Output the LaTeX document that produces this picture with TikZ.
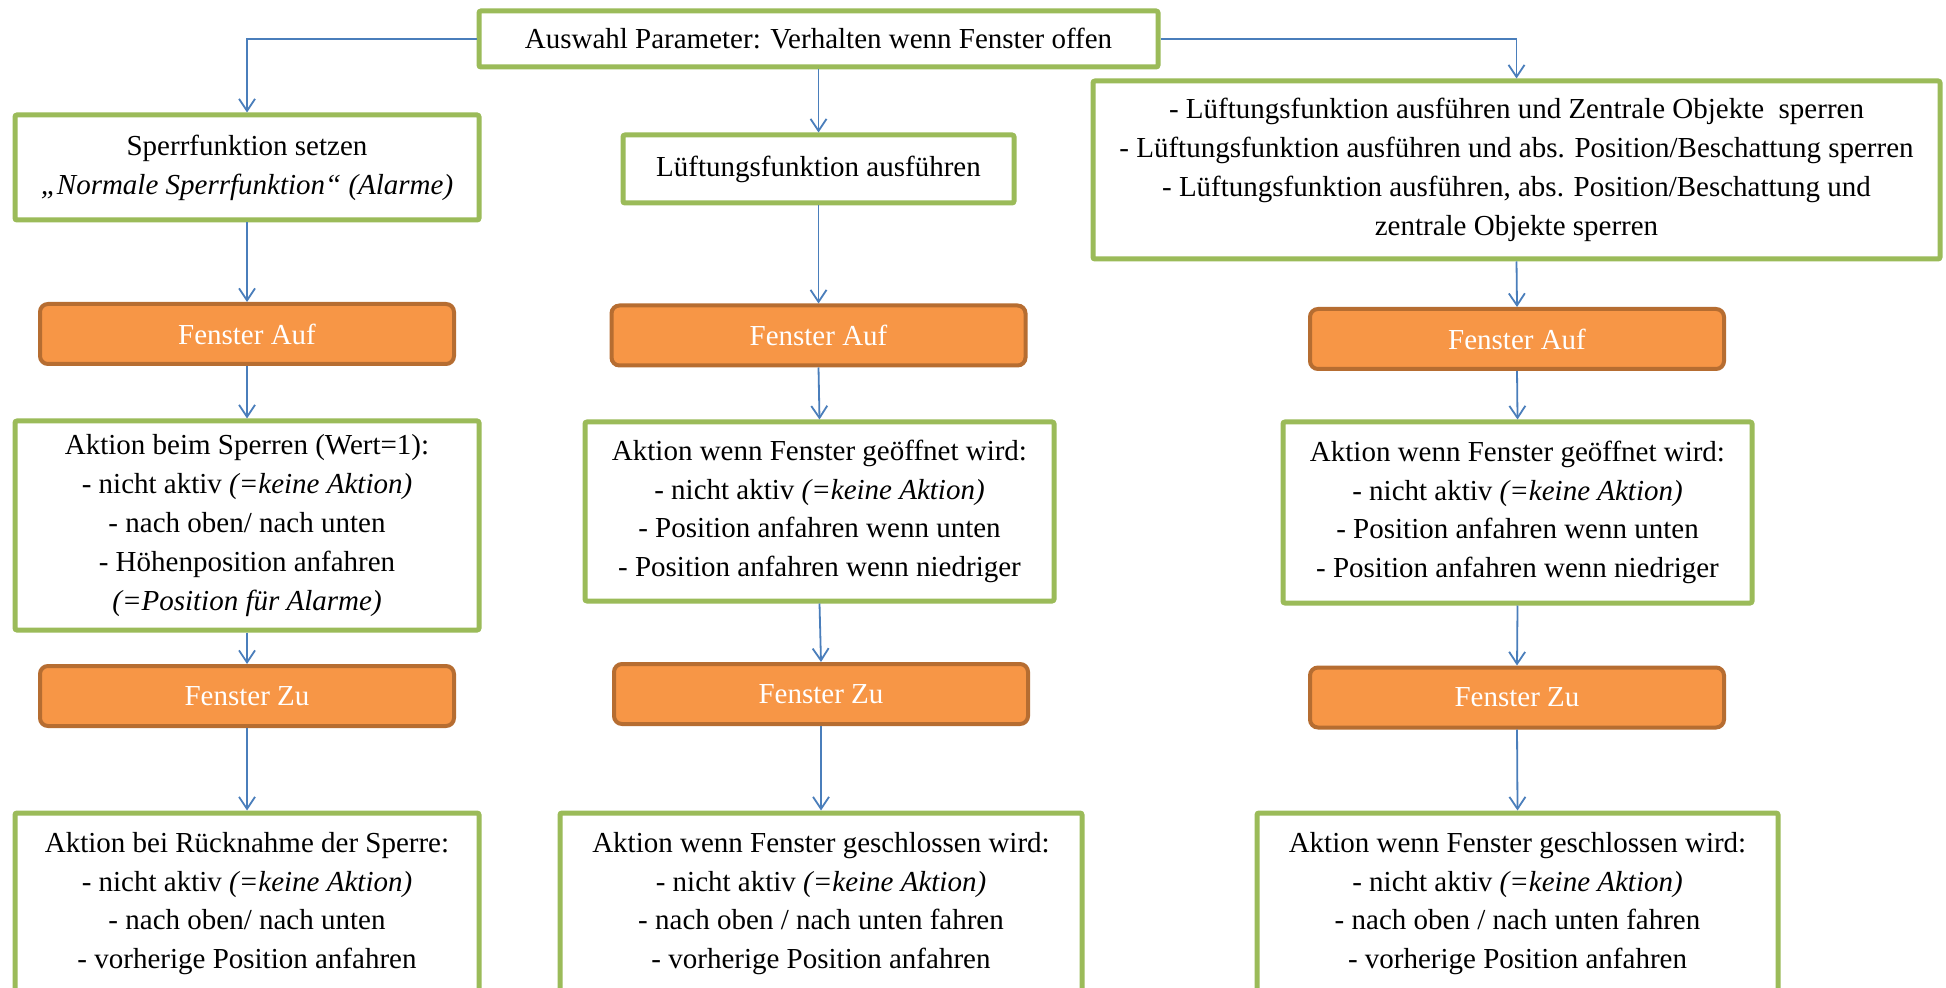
\documentclass[tikz,border=0pt]{standalone}
\usepackage{fontspec}
\setmainfont{Liberation Serif}
\usetikzlibrary{arrows.meta}
\definecolor{gborder}{HTML}{9BBB59}
\definecolor{ofill}{HTML}{F79646}
\definecolor{oborder}{HTML}{B66D31}
\definecolor{arrowblue}{HTML}{4A7EBB}
\begin{document}
\begin{tikzpicture}[x=0.5pt,y=-0.5pt,
  gbox/.style={draw=gborder, line width=2.5pt, fill=white, rounded corners=1pt, align=center, inner sep=0pt, font=\fontsize{14.5}{19.4}\selectfont},
  obox/.style={draw=oborder, line width=2pt, fill=ofill, rounded corners=4pt, text=white, inner sep=0pt, minimum width=207pt, minimum height=30pt, font=\fontsize{14.5}{19.4}\selectfont},
  conn/.style={draw=arrowblue, line width=0.9pt, -{Straight Barb[length=6pt,width=8pt]}}]
\useasboundingbox (0,0) rectangle (1946,988);
\fill[white] (0,0) rectangle (1946,988);
\clip (0,0) rectangle (1946,988);

% top
\node[gbox, minimum width=339.5pt, minimum height=28pt] (top) at (818.5,39) {Auswahl Parameter: Verhalten wenn Fenster offen};

% column 1
\node[gbox, minimum width=232pt, minimum height=52.5pt] (A1) at (247,167.5) {Sperrfunktion setzen\\\textit{„Normale Sperrfunktion“ (Alarme)}};
\node[obox] (B1) at (247,334) {Fenster Auf};
\node[gbox, minimum width=232pt, minimum height=104.5pt] (C1) at (247,525.5) {Aktion beim Sperren (Wert=1):\\- nicht aktiv \textit{(=keine Aktion)}\\- nach oben/ nach unten\\- Höhenposition anfahren\\\textit{(=Position für Alarme)}};
\node[obox] (D1) at (247,696) {Fenster Zu};
\node[gbox, minimum width=232pt, minimum height=90.5pt] (E1) at (247,903.5) {Aktion bei Rücknahme der Sperre:\\- nicht aktiv \textit{(=keine Aktion)}\\- nach oben/ nach unten\\- vorherige Position anfahren};

% column 2
\node[gbox, minimum width=195.5pt, minimum height=34pt] (A2) at (818.5,169) {Lüftungsfunktion ausführen};
\node[obox] (B2) at (818.5,335.5) {Fenster Auf};
\node[gbox, minimum width=234.5pt, minimum height=89.5pt] (C2) at (819.5,511.5) {Aktion wenn Fenster geöffnet wird:\\- nicht aktiv \textit{(=keine Aktion)}\\- Position anfahren wenn unten\\- Position anfahren wenn niedriger};
\node[obox] (D2) at (821,694) {Fenster Zu};
\node[gbox, minimum width=261pt, minimum height=90.5pt] (E2) at (821,903.5) {Aktion wenn Fenster geschlossen wird:\\- nicht aktiv \textit{(=keine Aktion)}\\- nach oben / nach unten fahren\\- vorherige Position anfahren};

% column 3
\node[gbox, minimum width=423.5pt, minimum height=89pt] (A3) at (1516.5,170) {- Lüftungsfunktion ausführen und Zentrale Objekte~ sperren\\- Lüftungsfunktion ausführen und abs. Position/Beschattung sperren\\- Lüftungsfunktion ausführen, abs. Position/Beschattung und\\zentrale Objekte sperren};
\node[obox] (B3) at (1517,339) {Fenster Auf};
\node[gbox, minimum width=234.5pt, minimum height=90.5pt] (C3) at (1517.5,512.5) {Aktion wenn Fenster geöffnet wird:\\- nicht aktiv \textit{(=keine Aktion)}\\- Position anfahren wenn unten\\- Position anfahren wenn niedriger};
\node[obox] (D3) at (1517,697.5) {Fenster Zu};
\node[gbox, minimum width=260.5pt, minimum height=90.5pt] (E3) at (1517.5,903.5) {Aktion wenn Fenster geschlossen wird:\\- nicht aktiv \textit{(=keine Aktion)}\\- nach oben / nach unten fahren\\- vorherige Position anfahren};

% connectors
\draw[conn] (top.west) -| (A1.north);
\draw[conn] (top.south) -- (A2.north);
\draw[conn] (top.east) -| (A3.north);
\foreach \c in {1,2,3}{
  \draw[conn] (A\c.south) -- (B\c.north);
  \draw[conn] (B\c.south) -- (C\c.north);
  \draw[conn] (C\c.south) -- (D\c.north);
  \draw[conn] (D\c.south) -- (E\c.north);
}
\end{tikzpicture}
\end{document}
